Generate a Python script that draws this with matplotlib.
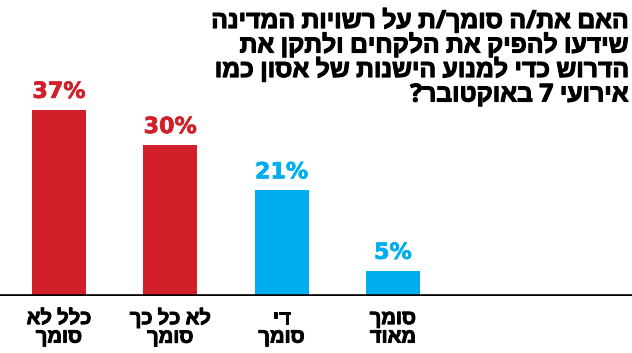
import matplotlib
matplotlib.use('Agg')
import matplotlib.pyplot as plt
import matplotlib.patheffects as pe

# survey results (Hebrew poll on trust in state authorities)
categories = ['כלל לא\nסומך', 'לא כל כך\nסומך', 'די\nסומך', 'סומך\nמאוד']
values = [37, 30, 21, 5]
colors = ['#d2202a', '#d2202a', '#00aeef', '#00aeef']
title_lines = [
    'האם את/ה סומך/ת על רשויות המדינה',
    'שידעו להפיק את הלקחים ולתקן את',
    'הדרוש כדי למנוע הישנות של אסון כמו',
    'אירועי 7 באוקטובר?',
]

fonts = ['Open Sans', 'Liberation Sans', 'DejaVu Sans']


def vis(s):
    # matplotlib has no bidi support, so put Hebrew in visual order
    return '\n'.join(line[::-1] for line in s.split('\n'))


def heavy(c, w=0.7):
    # fake an extra-bold weight
    return [pe.withStroke(linewidth=w, foreground=c)]


fig = plt.figure(figsize=(6.32, 3.53), dpi=100)
ax = fig.add_axes([0, 57 / 353, 1, 251.5 / 353])

x = list(range(len(values)))
ax.bar(x, values, width=0.485, color=colors, zorder=2)
ax.set_xlim(-0.530, 5.148)
ax.set_ylim(0, 50)
ax.axhline(0, color='black', lw=2.6, zorder=3)

for xi, v, c in zip(x, values, colors):
    ax.text(xi, v + 1.6, f'{v}%', ha='center', va='bottom', color=c,
            fontsize=16, fontweight='bold', family='DejaVu Sans',
            clip_on=False, path_effects=heavy(c, 0.5))

for xi, cat in zip(x, categories):
    ax.text(xi, -2.6, vis(cat), ha='center', va='top', color='black',
            fontsize=14.5, fontweight='bold', family=fonts, linespacing=0.9,
            clip_on=False, path_effects=heavy('black'))

for ax_side in ax.spines.values():
    ax_side.set_visible(False)
ax.set_xticks([])
ax.set_yticks([])
ax.patch.set_alpha(0)

for i, line in enumerate(title_lines):
    fig.text(629 / 632, 1 - (21.5 + 24.5 * i) / 353, vis(line), ha='right',
             va='center', fontsize=17.8, fontweight='bold', family=fonts,
             path_effects=heavy('black', 0.8))

fig.savefig('out.png', dpi=100)
